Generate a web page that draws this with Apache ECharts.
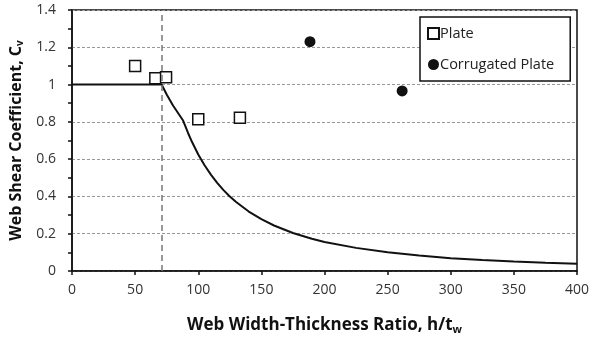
<!DOCTYPE html>
<html>
<head>
<meta charset="utf-8">
<script src="https://cdn.jsdelivr.net/npm/echarts@6/dist/echarts.min.js"></script>
<style>
  html, body { margin: 0; padding: 0; background: #fff; }
  #chart { width: 591px; height: 338px; }
</style>
</head>
<body>
<div id="chart"></div>
<script>
// Design curve of the web shear coefficient against h/tw
const curveRatio = [0, 71, 75, 80, 88, 92, 95, 100, 105, 110, 115, 120, 125, 130, 140, 150, 160, 175, 190, 200, 225, 250, 275, 300, 325, 350, 375, 400];
const curveCv    = [1.0, 1.0, 0.947, 0.888, 0.807, 0.739, 0.693, 0.625, 0.567, 0.517, 0.473, 0.434, 0.400, 0.370, 0.319, 0.278, 0.244, 0.204, 0.173, 0.156, 0.124, 0.100, 0.083, 0.069, 0.059, 0.051, 0.044, 0.039];

// Test results
const plateRatio = [50, 66, 74.5, 100, 133];
const plateCv    = [1.10, 1.034, 1.039, 0.814, 0.822];
const corrRatio  = [188.5, 261.5];
const corrCv     = [1.23, 0.966];

// Compact-web limit
const limitRatio = 71;

const FONT = '"Open Sans", "Noto Sans", sans-serif';

const chart = echarts.init(document.getElementById('chart'), null, { renderer: 'canvas' });

chart.setOption({
  animation: false,
  backgroundColor: '#fff',
  textStyle: { fontFamily: FONT },
  grid: {
    left: 72, right: 14, top: 10, bottom: 67,
    containLabel: false,
    outerBoundsMode: 'none',
    show: true, borderColor: '#111', borderWidth: 1.5
  },
  legend: {
    orient: 'vertical',
    left: 420, top: 17,
    padding: [9, 16, 9, 7],
    itemGap: 16,
    itemWidth: 11, itemHeight: 11,
    borderColor: '#111', borderWidth: 1.5,
    backgroundColor: '#fff',
    textStyle: { fontSize: 14.5, color: '#222', fontFamily: FONT, padding: [0, 0, 0, -4] },
    data: ['Plate', 'Corrugated Plate']
  },
  xAxis: {
    type: 'value',
    min: 0, max: 400, interval: 50,
    name: '{a|Web Width-Thickness Ratio, h/t}{s|w}',
    nameLocation: 'middle',
    nameGap: 45,
    nameTextStyle: {
      rich: {
        a: { fontSize: 17, fontWeight: 'bold', color: '#111', fontFamily: FONT },
        s: { fontSize: 11, fontWeight: 'bold', color: '#111', fontFamily: FONT, padding: [8, 0, 0, 0] }
      }
    },
    axisLine: { lineStyle: { color: '#111', width: 1.5 } },
    axisTick: { show: true, length: 4, lineStyle: { color: '#111', width: 1.5 } },
    axisLabel: { fontSize: 14, color: '#333', margin: 12, fontFamily: FONT },
    splitLine: { show: false }
  },
  yAxis: {
    type: 'value',
    min: 0, max: 1.4, interval: 0.2,
    name: '{a|Web Shear Coefficient, C}{s|v}',
    nameLocation: 'middle',
    nameGap: 37,
    nameRotate: 90,
    nameTextStyle: {
      rich: {
        a: { fontSize: 16, fontWeight: 'bold', color: '#111', fontFamily: FONT },
        s: { fontSize: 10, fontWeight: 'bold', color: '#111', fontFamily: FONT, padding: [8, 0, 0, 0] }
      }
    },
    axisLine: { show: true, lineStyle: { color: '#111', width: 1.5 } },
    axisTick: { show: true, length: 4, lineStyle: { color: '#111', width: 1.5 } },
    minorTick: { show: true, splitNumber: 2, length: 4, lineStyle: { color: '#111', width: 1.5 } },
    axisLabel: { fontSize: 14, color: '#333', margin: 16, fontFamily: FONT },
    splitLine: { show: true, lineStyle: { color: '#999', type: [3, 2], width: 1 } }
  },
  series: [
    {
      name: 'Design',
      type: 'line',
      data: curveRatio.map((x, i) => [x, curveCv[i]]),
      showSymbol: false,
      symbol: 'none',
      lineStyle: { color: '#111', width: 2 },
      z: 3,
      markLine: {
        silent: true,
        symbol: 'none',
        label: { show: false },
        lineStyle: { color: '#777', type: [6, 4], width: 1.5 },
        data: [{ xAxis: limitRatio }]
      }
    },
    {
      name: 'Plate',
      type: 'scatter',
      data: plateRatio.map((x, i) => [x, plateCv[i]]),
      symbol: 'rect',
      symbolSize: 11,
      itemStyle: { color: '#fff', borderColor: '#111', borderWidth: 1.5, opacity: 1 },
      z: 4
    },
    {
      name: 'Corrugated Plate',
      type: 'scatter',
      data: corrRatio.map((x, i) => [x, corrCv[i]]),
      symbol: 'circle',
      symbolSize: 11,
      itemStyle: { color: '#111', opacity: 1 },
      z: 4
    }
  ]
});
</script>
</body>
</html>
